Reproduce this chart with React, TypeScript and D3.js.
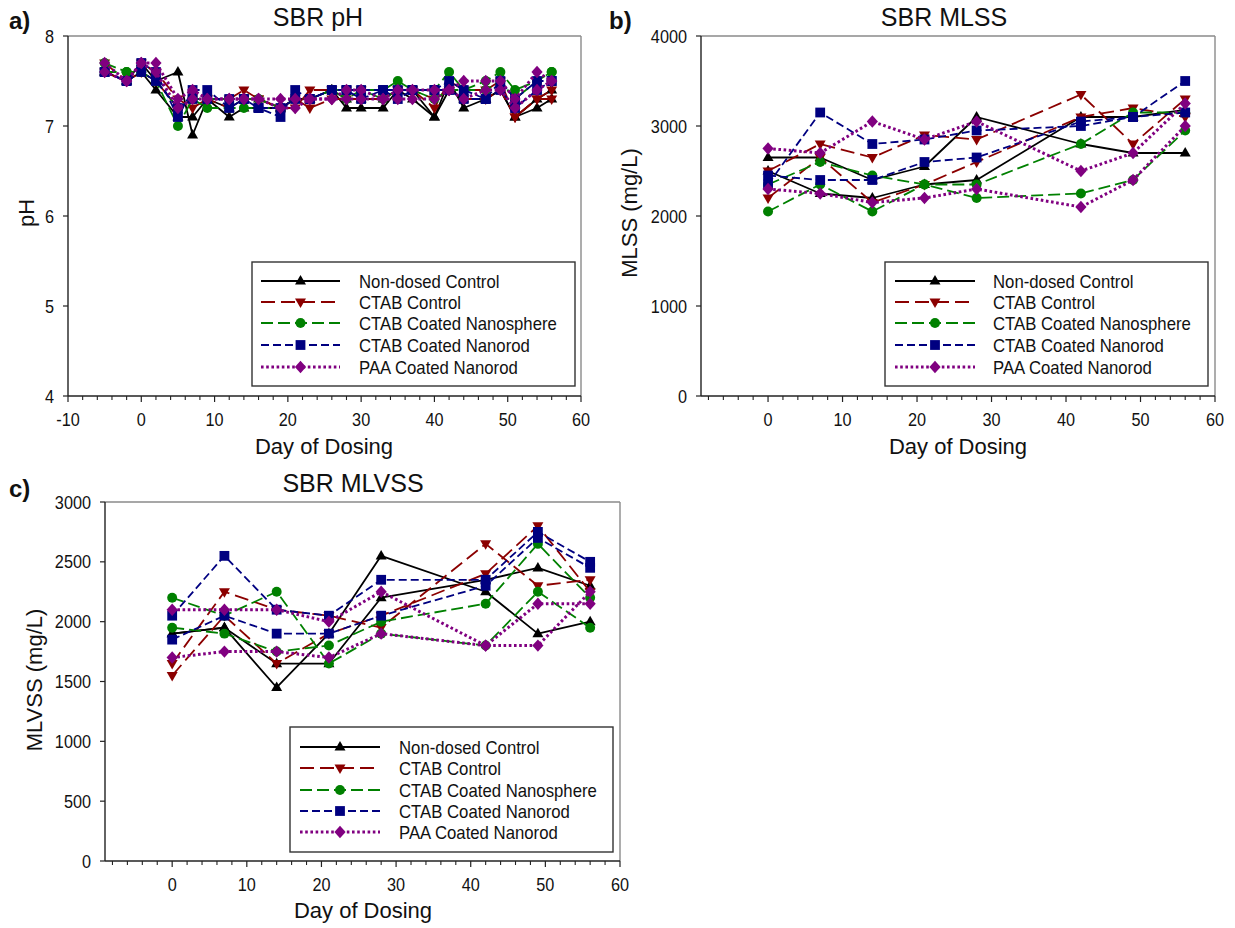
import React from "react";
import * as d3 from "d3";

// ---------- data ----------
const seriesNames = [
  "Non-dosed Control",
  "CTAB Control",
  "CTAB Coated Nanosphere",
  "CTAB Coated Nanorod",
  "PAA Coated Nanorod",
];

// panel a: pH
const phDays = [-5, -2, 0, 2, 5, 7, 9, 12, 14, 16, 19, 21, 23, 26, 28, 30, 33, 35, 37, 40, 42, 44, 47, 49, 51, 54, 56];
const phNonDosedA = [7.6, 7.5, 7.7, 7.5, 7.6, 6.9, 7.3, 7.1, 7.2, 7.2, 7.2, 7.3, 7.3, 7.4, 7.2, 7.2, 7.2, 7.4, 7.4, 7.1, 7.5, 7.2, 7.3, 7.4, 7.1, 7.2, 7.3];
const phNonDosedB = [7.6, 7.5, 7.6, 7.4, 7.1, 7.1, 7.3, 7.2, 7.3, 7.3, 7.2, 7.3, 7.3, 7.4, 7.3, 7.3, 7.3, 7.4, 7.3, 7.1, 7.4, 7.3, 7.3, 7.4, 7.1, 7.3, 7.4];
const phCtabA = [7.7, 7.5, 7.7, 7.6, 7.3, 7.2, 7.3, 7.3, 7.4, 7.3, 7.2, 7.2, 7.4, 7.4, 7.4, 7.4, 7.4, 7.4, 7.4, 7.2, 7.5, 7.4, 7.4, 7.5, 7.1, 7.3, 7.4];
const phCtabB = [7.6, 7.5, 7.6, 7.5, 7.2, 7.3, 7.3, 7.2, 7.3, 7.3, 7.2, 7.3, 7.2, 7.3, 7.3, 7.3, 7.3, 7.4, 7.4, 7.3, 7.4, 7.3, 7.3, 7.4, 7.1, 7.3, 7.3];
const phSphereA = [7.7, 7.6, 7.6, 7.5, 7.0, 7.3, 7.2, 7.2, 7.2, 7.2, 7.2, 7.3, 7.3, 7.4, 7.3, 7.4, 7.4, 7.5, 7.4, 7.4, 7.6, 7.4, 7.5, 7.6, 7.4, 7.5, 7.6];
const phSphereB = [7.6, 7.6, 7.6, 7.5, 7.2, 7.3, 7.3, 7.3, 7.3, 7.3, 7.2, 7.3, 7.3, 7.4, 7.4, 7.4, 7.3, 7.4, 7.4, 7.3, 7.4, 7.4, 7.4, 7.5, 7.3, 7.5, 7.6];
const phRodA = [7.6, 7.5, 7.7, 7.6, 7.1, 7.4, 7.4, 7.2, 7.3, 7.2, 7.1, 7.4, 7.3, 7.4, 7.4, 7.4, 7.4, 7.4, 7.4, 7.4, 7.5, 7.4, 7.3, 7.5, 7.3, 7.5, 7.5];
const phRodB = [7.6, 7.5, 7.6, 7.5, 7.2, 7.3, 7.3, 7.3, 7.3, 7.2, 7.2, 7.3, 7.3, 7.4, 7.4, 7.3, 7.4, 7.3, 7.4, 7.4, 7.4, 7.3, 7.3, 7.4, 7.2, 7.4, 7.5];
const phPaaA = [7.7, 7.5, 7.7, 7.7, 7.3, 7.4, 7.3, 7.3, 7.3, 7.3, 7.3, 7.3, 7.3, 7.3, 7.4, 7.4, 7.3, 7.4, 7.4, 7.4, 7.4, 7.5, 7.5, 7.5, 7.3, 7.6, 7.5];
const phPaaB = [7.6, 7.5, 7.7, 7.6, 7.2, 7.3, 7.3, 7.3, 7.3, 7.3, 7.2, 7.2, 7.3, 7.3, 7.3, 7.3, 7.3, 7.3, 7.3, 7.3, 7.4, 7.3, 7.4, 7.4, 7.2, 7.4, 7.5];

// panels b, c: solids
const solidsDays = [0, 7, 14, 21, 28, 42, 49, 56];
const mlssNonDosedA = [2650, 2650, 2400, 2550, 3100, 2800, 2700, 2700];
const mlssNonDosedB = [2500, 2250, 2200, 2350, 2400, 3100, 3100, 3180];
const mlssCtabA = [2500, 2800, 2650, 2900, 2850, 3350, 2800, 3300];
const mlssCtabB = [2200, 2650, 2150, 2350, 2600, 3100, 3200, 3100];
const mlssSphereA = [2050, 2350, 2050, 2350, 2350, 2800, 3150, 3150];
const mlssSphereB = [2350, 2600, 2450, 2350, 2200, 2250, 2400, 2950];
const mlssRodA = [2350, 3150, 2800, 2850, 2950, 3000, 3100, 3150];
const mlssRodB = [2450, 2400, 2400, 2600, 2650, 3050, 3100, 3500];
const mlssPaaA = [2750, 2700, 3050, 2850, 3050, 2500, 2700, 3250];
const mlssPaaB = [2300, 2250, 2150, 2200, 2300, 2100, 2400, 3000];

const mlvssNonDosedA = [1900, 1950, 1450, 1900, 2550, 2250, 1900, 2000];
const mlvssNonDosedB = [1900, 1950, 1650, 1650, 2200, 2350, 2450, 2300];
const mlvssCtabA = [1650, 2250, 2100, 2050, 1950, 2650, 2300, 2350];
const mlvssCtabB = [1550, 2050, 1650, 1900, 2050, 2400, 2800, 2250];
const mlvssSphereA = [2200, 2050, 2250, 1650, 1900, 1800, 2250, 1950];
const mlvssSphereB = [1950, 1900, 1750, 1800, 2000, 2150, 2650, 2200];
const mlvssRodA = [2050, 2550, 2100, 2050, 2350, 2350, 2750, 2500];
const mlvssRodB = [1850, 2050, 1900, 1900, 2050, 2300, 2700, 2450];
const mlvssPaaA = [2100, 2100, 2100, 2000, 2250, 1800, 2150, 2150];
const mlvssPaaB = [1700, 1750, 1750, 1700, 1900, 1800, 1800, 2250];

const phTicks = [4, 5, 6, 7, 8];
const mlssTicks = [0, 1000, 2000, 3000, 4000];
const mlvssTicks = [0, 500, 1000, 1500, 2000, 2500, 3000];
const dayTicksA = [-10, 0, 10, 20, 30, 40, 50, 60];
const dayTicksBC = [0, 10, 20, 30, 40, 50, 60];

// ---------- styles ----------
const FONT = "'Liberation Sans', Arial, Helvetica, sans-serif";
const styles = [
  { color: "#000000", dash: "none", width: 1.8, marker: "up" },
  { color: "#8B0000", dash: "14,6", width: 1.8, marker: "down" },
  { color: "#008000", dash: "12,5", width: 1.8, marker: "circle" },
  { color: "#000080", dash: "8,4", width: 1.8, marker: "square" },
  { color: "#800080", dash: "2.6,2.6", width: 3, marker: "diamond" },
];

function markerPath(type: string): string {
  if (type === "up") {
    const s = 11, h = s * 0.866;
    return `M0,${-h * 0.62}L${s / 2},${h * 0.38}L${-s / 2},${h * 0.38}Z`;
  }
  if (type === "down") {
    const s = 11, h = s * 0.866;
    return `M0,${h * 0.62}L${s / 2},${-h * 0.38}L${-s / 2},${-h * 0.38}Z`;
  }
  if (type === "circle") return d3.symbol().type(d3.symbolCircle).size(78)() as string;
  if (type === "square") return "M-4.9,-4.9H4.9V4.9H-4.9Z";
  return "M0,-6.2L5.6,0L0,6.2L-5.6,0Z";
}

type Series = { s: number; v: number[] };

type PanelProps = {
  left: number; top: number; right: number; bottom: number;
  xDomain: [number, number]; yDomain: [number, number];
  xTicks: number[]; minorFrom: number; yTicks: number[];
  days: number[]; series: Series[];
  title: string; titleX: number; titleY: number;
  letter: string; letterX: number; letterY: number;
  yLabel: string; yLabelX: number; yLabelY: number;
  xLabelX: number; xLabelY: number;
  leg: { x0: number; x1: number; y0: number; y1: number; s0: number; s1: number; tx: number; rows: number[] };
};

function Panel(p: PanelProps) {
  const x = d3.scaleLinear().domain(p.xDomain).range([p.left, p.right]);
  const y = d3.scaleLinear().domain(p.yDomain).range([p.bottom, p.top]);
  const minor = d3.range(p.minorFrom, p.xDomain[1], 2).filter((t) => t % 10 !== 0);
  const line = d3.line<[number, number]>().x((d) => x(d[0])).y((d) => y(d[1]));
  return (
    <g fontFamily={FONT}>
      {/* frame */}
      <line x1={p.left} x2={p.right} y1={p.top} y2={p.top} stroke="#8a8a8a" strokeWidth={1.4} />
      <line x1={p.right} x2={p.right} y1={p.top} y2={p.bottom} stroke="#8a8a8a" strokeWidth={1.4} />
      <line x1={p.left} x2={p.left} y1={p.top} y2={p.bottom} stroke="#222" strokeWidth={1.4} />
      <line x1={p.left} x2={p.right} y1={p.bottom} y2={p.bottom} stroke="#222" strokeWidth={1.4} />
      {/* y ticks */}
      {p.yTicks.map((t) => (
        <g key={"y" + t}>
          <line x1={p.left - 5} x2={p.left} y1={y(t)} y2={y(t)} stroke="#222" strokeWidth={1.2} />
          <text transform={`translate(${p.left - 14},${y(t) + 6.5}) scale(0.93,1)`} textAnchor="end" fontSize={17.5} fill="#111">{t}</text>
        </g>
      ))}
      {/* x ticks */}
      {p.xTicks.map((t) => (
        <g key={"x" + t}>
          <line x1={x(t)} x2={x(t)} y1={p.bottom} y2={p.bottom + 6} stroke="#222" strokeWidth={1.2} />
          <text transform={`translate(${x(t)},${p.bottom + 30}) scale(0.93,1)`} textAnchor="middle" fontSize={17.5} fill="#111">{t}</text>
        </g>
      ))}
      {minor.map((t) => (
        <line key={"m" + t} x1={x(t)} x2={x(t)} y1={p.bottom} y2={p.bottom + 4} stroke="#222" strokeWidth={1.1} />
      ))}
      {/* data */}
      <g>
        {p.series.map((sr, i) => {
          const st = styles[sr.s];
          const pts: [number, number][] = p.days.map((d, k) => [d, sr.v[k]]);
          return (
            <g key={"s" + i}>
              <path d={line(pts) as string} fill="none" stroke={st.color} strokeWidth={st.width}
                strokeDasharray={st.dash} strokeLinejoin="round" />
              {pts.map((pt, k) => (
                <path key={k} d={markerPath(st.marker)} fill={st.color}
                  transform={`translate(${x(pt[0])},${y(pt[1])})`} />
              ))}
            </g>
          );
        })}
      </g>
      {/* titles */}
      <text x={p.titleX} y={p.titleY} textAnchor="middle" fontSize={25} fill="#111">{p.title}</text>
      <text x={p.letterX} y={p.letterY} fontSize={24} fontWeight="bold" fill="#111">{p.letter}</text>
      <text transform={`translate(${p.yLabelX},${p.yLabelY}) rotate(-90)`} textAnchor="middle" fontSize={22} fill="#111">{p.yLabel}</text>
      <text x={p.xLabelX} y={p.xLabelY} textAnchor="middle" fontSize={22} fill="#111">Day of Dosing</text>
      {/* legend */}
      <rect x={p.leg.x0} y={p.leg.y0} width={p.leg.x1 - p.leg.x0} height={p.leg.y1 - p.leg.y0}
        fill="#fff" stroke="#333" strokeWidth={1.4} />
      {seriesNames.map((name, i) => {
        const st = styles[i];
        const ry = p.leg.rows[i];
        return (
          <g key={"l" + i}>
            <line x1={p.leg.s0} x2={p.leg.s1} y1={ry} y2={ry} stroke={st.color} strokeWidth={st.width}
              strokeDasharray={st.dash} />
            <path d={markerPath(st.marker)} fill={st.color}
              transform={`translate(${(p.leg.s0 + p.leg.s1) / 2},${ry})`} />
            <text transform={`translate(${p.leg.tx},${ry + 6.5}) scale(0.93,1)`} fontSize={18} fill="#111">{name}</text>
          </g>
        );
      })}
    </g>
  );
}

const phSeries: Series[] = [
  { s: 0, v: phNonDosedA }, { s: 0, v: phNonDosedB },
  { s: 1, v: phCtabA }, { s: 1, v: phCtabB },
  { s: 2, v: phSphereA }, { s: 2, v: phSphereB },
  { s: 3, v: phRodA }, { s: 3, v: phRodB },
  { s: 4, v: phPaaA }, { s: 4, v: phPaaB },
];
const mlssSeries: Series[] = [
  { s: 0, v: mlssNonDosedA }, { s: 0, v: mlssNonDosedB },
  { s: 1, v: mlssCtabA }, { s: 1, v: mlssCtabB },
  { s: 2, v: mlssSphereA }, { s: 2, v: mlssSphereB },
  { s: 3, v: mlssRodA }, { s: 3, v: mlssRodB },
  { s: 4, v: mlssPaaA }, { s: 4, v: mlssPaaB },
];
const mlvssSeries: Series[] = [
  { s: 0, v: mlvssNonDosedA }, { s: 0, v: mlvssNonDosedB },
  { s: 1, v: mlvssCtabA }, { s: 1, v: mlvssCtabB },
  { s: 2, v: mlvssSphereA }, { s: 2, v: mlvssSphereB },
  { s: 3, v: mlvssRodA }, { s: 3, v: mlvssRodB },
  { s: 4, v: mlvssPaaA }, { s: 4, v: mlvssPaaB },
];

export default function App() {
  return (
    <svg width={1235} height={928} style={{ position: "absolute", left: 0, top: 0, background: "#fff" }}>
      <rect width={1235} height={928} fill="#fff" />
      <Panel left={68} top={36} right={581} bottom={396}
        xDomain={[-10, 60]} yDomain={[4, 8]} xTicks={dayTicksA} minorFrom={-8} yTicks={phTicks}
        days={phDays} series={phSeries}
        title="SBR pH" titleX={318} titleY={26} letter="a)" letterX={9} letterY={29}
        yLabel="pH" yLabelX={34} yLabelY={213} xLabelX={324} xLabelY={454}
        leg={{ x0: 252, x1: 575, y0: 262, y1: 386, s0: 261, s1: 340, tx: 359, rows: [281, 302, 323, 345, 367] }} />
      <Panel left={701} top={36} right={1215} bottom={396}
        xDomain={[-9, 60]} yDomain={[0, 4000]} xTicks={dayTicksBC} minorFrom={-8} yTicks={mlssTicks}
        days={solidsDays} series={mlssSeries}
        title="SBR MLSS" titleX={944} titleY={26} letter="b)" letterX={609} letterY={29}
        yLabel="MLSS (mg/L)" yLabelX={637} yLabelY={213} xLabelX={958} xLabelY={454}
        leg={{ x0: 885, x1: 1208, y0: 262, y1: 386, s0: 895, s1: 975, tx: 993, rows: [281, 302, 323, 345, 367] }} />
      <Panel left={105} top={502} right={620} bottom={861}
        xDomain={[-9, 60]} yDomain={[0, 3000]} xTicks={dayTicksBC} minorFrom={-8} yTicks={mlvssTicks}
        days={solidsDays} series={mlvssSeries}
        title="SBR MLVSS" titleX={353} titleY={492} letter="c)" letterX={9} letterY={497}
        yLabel="MLVSS (mg/L)" yLabelX={42} yLabelY={680} xLabelX={363} xLabelY={918}
        leg={{ x0: 290, x1: 613, y0: 727, y1: 852, s0: 300, s1: 380, tx: 399, rows: [747, 768, 790, 811, 832] }} />
    </svg>
  );
}
